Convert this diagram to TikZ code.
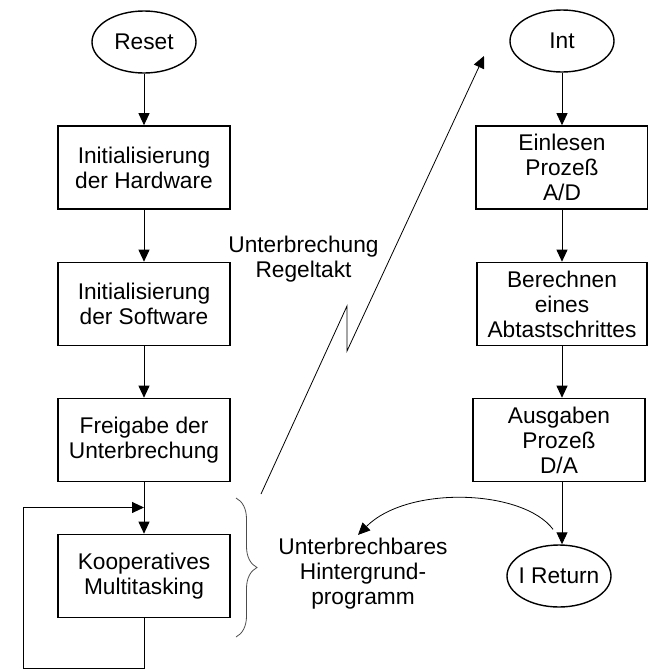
\documentclass[tikz,border=0pt]{standalone}
\usepackage{fontspec}
\setmainfont{Liberation Sans}
\usetikzlibrary{arrows.meta, shapes.geometric, decorations.pathreplacing, calc}

\tikzset{
  blockbox/.style={draw, line width=1.6pt, minimum width=172pt, minimum height=83pt, inner sep=0pt, align=center},
  ovalbox/.style={draw, ellipse, line width=1.4pt, minimum width=104pt, minimum height=62pt, inner xsep=-10pt, inner ysep=0pt},
  flowarrow/.style={-{Triangle[length=12pt,width=11pt]}, line width=0.9pt},
}

\begin{document}
\begin{tikzpicture}[x=1pt, y=-1pt, font=\fontsize{22.7}{25}\selectfont]
  \useasboundingbox (0,0) rectangle (648,670);

  % Hauptprogramm
  \node[ovalbox] (reset) at (144,42) {Reset};
  \node[blockbox] (hw) at (144,167.5) {Initialisierung\\der Hardware};
  \node[blockbox] (sw) at (144,304) {Initialisierung\\der Software};
  \node[blockbox] (irq) at (144,440) {Freigabe der\\Unterbrechung};
  \node[blockbox] (multi) at (144,576) {Kooperatives\\Multitasking};

  \draw[flowarrow] (reset) -- (hw);
  \draw[flowarrow] (hw) -- (sw);
  \draw[flowarrow] (sw) -- (irq);
  \draw[flowarrow] (irq) -- (multi);

  % Schleife
  \coordinate (loopjoin) at ($(irq.south)!0.49!(multi.north)$);
  \draw[flowarrow] (multi.south) -- ++(0,50) -| ([xshift=-121pt]loopjoin) -- (loopjoin);

  % Interruptroutine
  \node[ovalbox] (int) at (562,41) {Int};
  \node[blockbox] (einl) at (562,167.5) {Einlesen\\Prozeß\\A/D};
  \node[blockbox, minimum width=170pt] (calc) at (562,304) {Berechnen\\eines\\Abtastschrittes};
  \node[blockbox] (ausg) at (559,440) {Ausgaben\\Prozeß\\D/A};
  \node[ovalbox] (iret) at (559,576) {I Return};

  \draw[flowarrow] (int) -- (einl);
  \draw[flowarrow] (einl) -- (calc);
  \draw[flowarrow] (calc) -- (calc.south |- ausg.north);
  \draw[flowarrow] (ausg.south -| einl.south) -- (iret.north -| einl.south);

  % Klammer und Texte
  \draw[gray!60!black, line width=0.8pt, decorate, decoration={brace, amplitude=21pt}] (236,498) -- (236,637);
  \node (regel) at (303.5,259) [align=center] {Unterbrechung\\Regeltakt};
  \node (hint) at (363,574) [align=center] {Unterbrechbares\\Hintergrund-\\programm};

  % Blitz
  \coordinate (zapfoot) at (261,494);
  \coordinate (zapA) at (347,306);
  \coordinate (zapB) at (347,351);
  \coordinate (zaptop) at (484,56);
  \draw[flowarrow, line width=0.8pt] (zapfoot) -- (zapA) -- (zapB) -- (zaptop);

  % Ruecksprung
  \draw[flowarrow, line width=0.8pt] ([xshift=-6pt,yshift=15pt]iret.north) .. controls +(-30,-40) and +(50,-50) .. ([xshift=-5pt]hint.north);
\end{tikzpicture}
\end{document}
